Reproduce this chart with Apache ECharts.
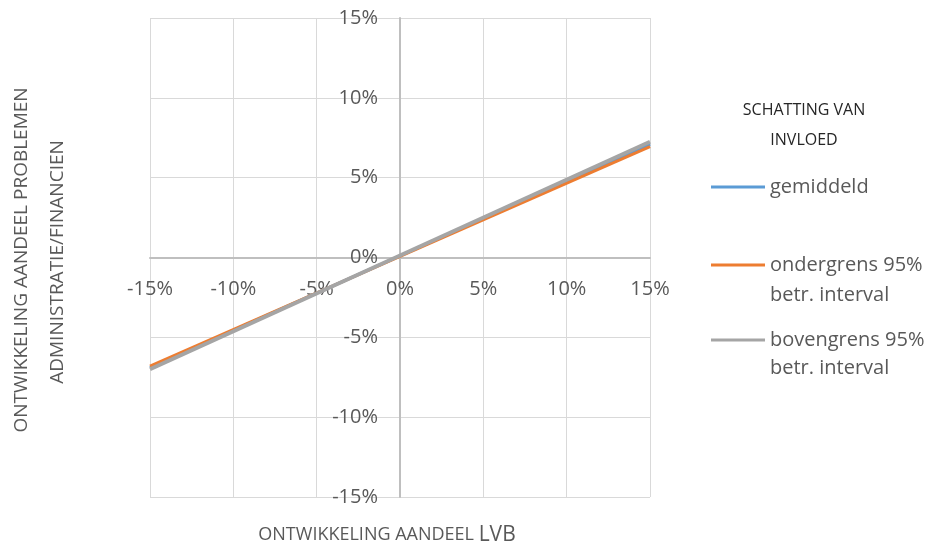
<!DOCTYPE html>
<html><head><meta charset="utf-8">
<script src="https://cdn.jsdelivr.net/npm/echarts@6/dist/echarts.min.js"></script>
<style>html,body{margin:0;padding:0;background:#fff}#c{width:933px;height:545px}</style>
</head><body><div id="c"></div>
<script>
const xValues = [-15, 15];
const gemiddeld = [-6.9, 7.1];
const ondergrens = [-6.8, 6.95];
const bovengrens = [-7.0, 7.25];
const seriesNames = ['gemiddeld', 'ondergrens 95%', 'bovengrens 95%'];
const nameSecondLines = ['', 'betr. interval', 'betr. interval'];
const seriesColors = ['#5B9BD5', '#ED7D31', '#A5A5A5'];
const axisMin = -15, axisMax = 15, axisStep = 5;
const legendTitle = ['SCHATTING VAN', 'INVLOED'];
const xTitle = ['ONTWIKKELING AANDEEL ', 'LVB'];
const yTitle = ['ONTWIKKELING AANDEEL PROBLEMEN', 'ADMINISTRATIE/FINANCIEN'];

const FONT = '"Open Sans"';
const chart = echarts.init(document.getElementById('c'));
const toPairs = arr => xValues.map((x, i) => [x, arr[i]]);
const allData = [gemiddeld, ondergrens, bovengrens];
const widths = [3, 3, 4];

const legendCenters = [187, 265, 340];
const legends = seriesNames.map((n, i) => ({
  left: 711, top: legendCenters[i] - 14, orient: 'vertical', padding: 0,
  data: [n], icon: 'rect', itemWidth: 54, itemHeight: 3, itemGap: 0,
  selectedMode: false,
  textStyle: { color: '#595959', fontSize: 20, fontFamily: 'Open Sans', lineHeight: 28 }
}));

const graphics = [
  { type: 'text', x: 804, y: 110, style: { text: legendTitle[0], fill: '#262626', font: '16px ' + FONT, align: 'center', verticalAlign: 'middle' } },
  { type: 'text', x: 804, y: 140, style: { text: legendTitle[1], fill: '#262626', font: '16px ' + FONT, align: 'center', verticalAlign: 'middle' } },
  { type: 'text', x: 387, y: 535, style: {
      text: '{a|' + xTitle[0] + '}{b|' + xTitle[1] + '}', align: 'center', verticalAlign: 'middle',
      rich: { a: { fill: '#595959', fontSize: 18, fontFamily: 'Open Sans' }, b: { fill: '#595959', fontSize: 21, fontFamily: 'Open Sans' } } } },
  { type: 'text', x: 22, y: 260, rotation: Math.PI / 2, style: { text: yTitle[0], fill: '#595959', font: '19px ' + FONT, align: 'center', verticalAlign: 'middle' } },
  { type: 'text', x: 58, y: 262, rotation: Math.PI / 2, style: { text: yTitle[1], fill: '#595959', font: '19px ' + FONT, align: 'center', verticalAlign: 'middle' } }
];
const secondLineY = [0, 295, 368];
nameSecondLines.forEach((t, i) => {
  if (t) graphics.push({ type: 'text', x: 770, y: secondLineY[i], style: { text: t, fill: '#595959', font: '20px ' + FONT, verticalAlign: 'middle' } });
});

chart.setOption({
  animation: false,
  grid: { left: 150, right: 283, top: 18, bottom: 48 },
  xAxis: {
    type: 'value', min: axisMin, max: axisMax, interval: axisStep, position: 'bottom', offset: -239.5,
    axisLine: { onZero: false, lineStyle: { color: '#BFBFBF', width: 2 } },
    axisTick: { show: false },
    axisLabel: { formatter: '{value}%', color: '#595959', fontSize: 20, fontFamily: 'Open Sans', margin: 22 },
    splitLine: { lineStyle: { color: '#D9D9D9', width: 1 } }
  },
  yAxis: {
    type: 'value', min: axisMin, max: axisMax, interval: axisStep, position: 'left', offset: -250,
    axisLine: { onZero: false, lineStyle: { color: '#BFBFBF', width: 2 } },
    axisTick: { show: false },
    axisLabel: { formatter: '{value}%', color: '#595959', fontSize: 20, fontFamily: 'Open Sans', margin: 22 },
    splitLine: { lineStyle: { color: '#D9D9D9', width: 1 } }
  },
  legend: legends,
  series: allData.map((d, i) => ({
    name: seriesNames[i], type: 'line', data: toPairs(d), showSymbol: false, symbol: 'none',
    color: seriesColors[i], lineStyle: { color: seriesColors[i], width: widths[i] }, z: 2 + i
  })),
  graphic: graphics
});
</script></body></html>
